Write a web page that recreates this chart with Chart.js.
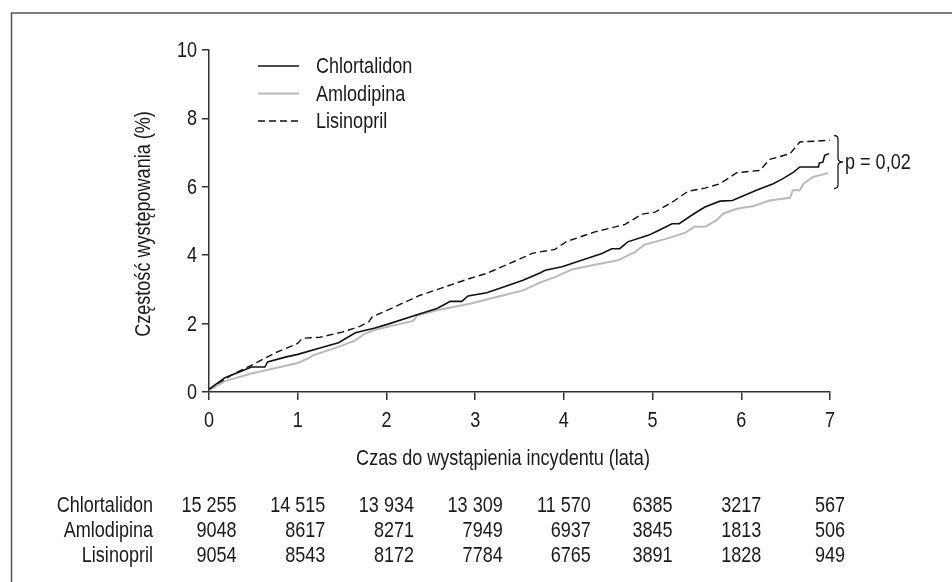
<!DOCTYPE html>
<html>
<head>
<meta charset="utf-8">
<script src="https://cdn.jsdelivr.net/npm/chart.js@4"></script>
<style>
  html, body { margin: 0; padding: 0; background: #fff; }
  #wrap { width: 952px; height: 582px; position: relative; }
</style>
</head>
<body>
<div id="wrap"><canvas id="kmChart" width="952" height="582"></canvas></div>
<script>
// values (years, %)
const chlorT = [0, 0.18, 0.48, 0.63, 0.66, 0.86, 1.0, 1.27, 1.46, 1.65, 1.87, 2.0, 2.38, 2.57, 2.72, 2.85, 2.92, 3.13, 3.32, 3.54, 3.73, 3.79, 3.98, 4.2, 4.43, 4.54, 4.63, 4.72, 4.95, 5.05, 5.22, 5.3, 5.47, 5.59, 5.76, 5.9, 6.17, 6.36, 6.47, 6.59, 6.66, 6.87, 6.88, 6.92, 6.94, 6.99];
const chlorV = [0.08, 0.42, 0.73, 0.73, 0.88, 1.02, 1.1, 1.3, 1.44, 1.73, 1.87, 1.97, 2.29, 2.44, 2.65, 2.65, 2.81, 2.9, 3.07, 3.27, 3.48, 3.56, 3.66, 3.85, 4.05, 4.19, 4.19, 4.39, 4.58, 4.7, 4.92, 4.92, 5.22, 5.41, 5.58, 5.6, 5.9, 6.09, 6.24, 6.43, 6.58, 6.58, 6.7, 6.72, 6.92, 6.97];

const amloT = [0, 0.18, 0.48, 1.0, 1.12, 1.17, 1.46, 1.65, 1.76, 1.87, 2.3, 2.35, 2.57, 2.94, 3.32, 3.54, 3.73, 3.9, 4.09, 4.35, 4.61, 4.8, 4.91, 5.18, 5.37, 5.47, 5.6, 5.72, 5.8, 5.95, 6.13, 6.32, 6.55, 6.58, 6.66, 6.7, 6.81, 6.98];
const amloV = [0.05, 0.32, 0.54, 0.85, 0.98, 1.07, 1.32, 1.51, 1.71, 1.82, 2.08, 2.24, 2.39, 2.58, 2.83, 2.97, 3.2, 3.36, 3.58, 3.72, 3.85, 4.09, 4.31, 4.5, 4.66, 4.83, 4.84, 5.02, 5.22, 5.36, 5.43, 5.6, 5.68, 5.9, 5.9, 6.09, 6.29, 6.4];

const lisiT = [0, 0.25, 0.5, 0.75, 1.0, 1.05, 1.25, 1.5, 1.7, 1.8, 1.84, 2.0, 2.38, 2.94, 3.13, 3.39, 3.65, 3.9, 4.03, 4.35, 4.69, 4.88, 5.03, 5.25, 5.4, 5.59, 5.76, 5.95, 6.21, 6.32, 6.55, 6.66, 7.0];
const lisiV = [0.05, 0.49, 0.81, 1.15, 1.42, 1.57, 1.6, 1.75, 1.92, 2.05, 2.2, 2.38, 2.83, 3.32, 3.47, 3.76, 4.06, 4.17, 4.4, 4.68, 4.9, 5.2, 5.26, 5.6, 5.87, 5.96, 6.09, 6.41, 6.48, 6.8, 6.97, 7.31, 7.36];

const seriesNames = ['Chlortalidon', 'Amlodipina', 'Lisinopril'];
const yearTicks = [0, 1, 2, 3, 4, 5, 6, 7];
const pctTicks = [0, 2, 4, 6, 8, 10];
// patients at risk, one row per group, one entry per year tick
const riskChlor = ['15 255', '14 515', '13 934', '13 309', '11 570', '6385', '3217', '567'];
const riskAmlo = ['9048', '8617', '8271', '7949', '6937', '3845', '1813', '506'];
const riskLisi = ['9054', '8543', '8172', '7784', '6765', '3891', '1828', '949'];
const pText = 'p = 0,02';

const FONT = '22px "Liberation Sans", Arial, sans-serif';
const SQUEEZE = 0.82; // narrow face look
const INK = '#1a1a1a';

function pts(t, v) { return t.map((x, i) => ({ x, y: v[i] })); }

// narrow text: regular face squeezed horizontally
function txt(ctx, s, x, y, align) {
  ctx.save();
  ctx.translate(x, y);
  ctx.scale(SQUEEZE, 1);
  ctx.textAlign = align || 'left';
  ctx.fillText(s, 0, 0);
  ctx.restore();
}
function txtW(ctx, s) { return ctx.measureText(s).width * SQUEEZE; }

const overlay = {
  id: 'overlay',
  afterDraw(chart) {
    const ctx = chart.ctx;
    const xs = chart.scales.x, ys = chart.scales.y;
    ctx.save();
    // frame around the figure
    ctx.strokeStyle = '#555';
    ctx.lineWidth = 1.5;
    ctx.strokeRect(11.5, 13, 960, 600);

    ctx.fillStyle = INK;
    ctx.font = FONT;
    ctx.textBaseline = 'middle';

    // tick labels
    pctTicks.forEach(v => txt(ctx, String(v), ys.left + ys.width - 12, ys.getPixelForValue(v) + 1, 'right'));
    yearTicks.forEach(v => txt(ctx, String(v), xs.getPixelForValue(v), 421, 'center'));

    // y axis title
    ctx.save();
    ctx.translate(144, 224);
    ctx.rotate(-Math.PI / 2);
    txt(ctx, 'Częstość występowania (%)', 0, 0, 'center');
    ctx.restore();

    // x axis title
    txt(ctx, 'Czas do wystąpienia incydentu (lata)', 503, 459, 'center');

    // legend
    const ds = chart.data.datasets;
    ds.forEach((d, i) => {
      const y = 66 + i * 27.5;
      ctx.beginPath();
      ctx.strokeStyle = d.borderColor;
      ctx.lineWidth = d.borderWidth;
      ctx.setLineDash(d.borderDash || []);
      ctx.moveTo(258, y);
      ctx.lineTo(299, y);
      ctx.stroke();
      ctx.setLineDash([]);
      txt(ctx, d.label, 316, y + 1, 'left');
    });

    // bracket + p value
    const bx = xs.getPixelForValue(7) + 4;
    const top = ys.getPixelForValue(7.5), bot = ys.getPixelForValue(5.95);
    const mid = (top + bot) / 2;
    ctx.strokeStyle = INK;
    ctx.lineWidth = 1.3;
    ctx.beginPath();
    ctx.moveTo(bx, top);
    ctx.quadraticCurveTo(bx + 4, top, bx + 4, top + 4);
    ctx.lineTo(bx + 4, mid - 4);
    ctx.quadraticCurveTo(bx + 4, mid, bx + 9, mid);
    ctx.quadraticCurveTo(bx + 4, mid, bx + 4, mid + 4);
    ctx.lineTo(bx + 4, bot - 4);
    ctx.quadraticCurveTo(bx + 4, bot, bx, bot);
    ctx.stroke();
    txt(ctx, pText, bx + 11, mid + 1, 'left');

    // numbers at risk table
    const rows = [riskChlor, riskAmlo, riskLisi];
    const rowY = [506, 531, 556];
    rows.forEach((r, ri) => txt(ctx, seriesNames[ri], 153, rowY[ri], 'right'));
    yearTicks.forEach((t, ci) => {
      const cx = xs.getPixelForValue(t);
      const w = Math.max(...rows.map(r => txtW(ctx, r[ci])));
      rows.forEach((r, ri) => txt(ctx, r[ci], cx + w / 2, rowY[ri], 'right'));
    });
    ctx.restore();
  }
};

new Chart(document.getElementById('kmChart'), {
  type: 'line',
  data: {
    datasets: [
      { label: seriesNames[0], data: pts(chlorT, chlorV), borderColor: '#111', borderWidth: 1.6 },
      { label: seriesNames[1], data: pts(amloT, amloV), borderColor: '#b9b9b9', borderWidth: 2 },
      { label: seriesNames[2], data: pts(lisiT, lisiV), borderColor: '#111', borderWidth: 1.4, borderDash: [7, 4] }
    ]
  },
  options: {
    responsive: false,
    animation: false,
    events: [],
    elements: { point: { radius: 0 }, line: { tension: 0, fill: false } },
    layout: { padding: { top: 50, right: 122, left: 0, bottom: 0 } },
    plugins: { legend: { display: false }, tooltip: { enabled: false } },
    scales: {
      x: {
        type: 'linear', min: 0, max: 7,
        afterFit(s) { s.height = 190; },
        afterBuildTicks(s) { s.ticks = yearTicks.map(v => ({ value: v })); },
        grid: { drawOnChartArea: false, drawTicks: true, tickLength: 8, color: '#333', lineWidth: 1.5 },
        border: { display: true, color: '#333', width: 1.5 },
        ticks: { display: false }
      },
      y: {
        min: 0, max: 10,
        afterFit(s) { s.width = 209; },
        afterBuildTicks(s) { s.ticks = pctTicks.map(v => ({ value: v })); },
        grid: { drawOnChartArea: false, drawTicks: true, tickLength: 7, color: '#333', lineWidth: 1.5 },
        border: { display: true, color: '#333', width: 1.5 },
        ticks: { display: false }
      }
    }
  },
  plugins: [overlay]
});
</script>
</body>
</html>
